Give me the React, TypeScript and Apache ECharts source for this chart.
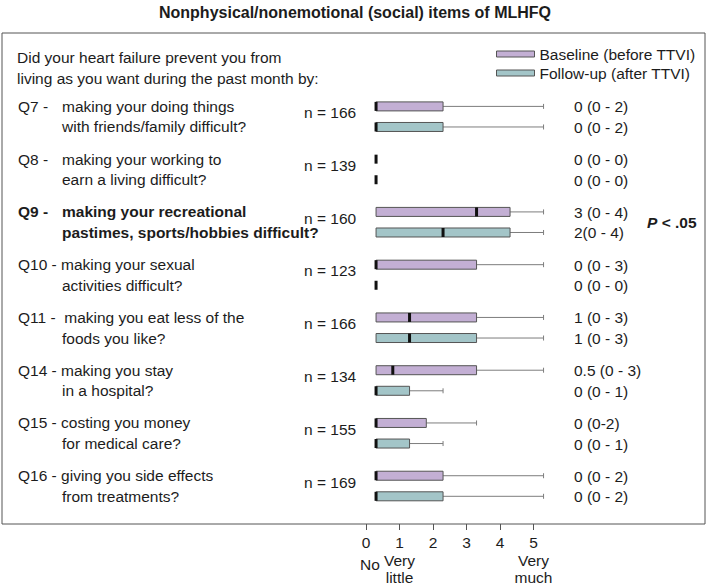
import React, { useEffect, useRef } from 'react';
import * as echarts from 'echarts';

const categories = ['Q7', 'Q8', 'Q9', 'Q10', 'Q11', 'Q14', 'Q15', 'Q16'];
const questionCodes = ['Q7 -', 'Q8 -', 'Q9 -', 'Q10 -', 'Q11 -', 'Q14 -', 'Q15 -', 'Q16 -'];
const questionLine1 = [
  'making your doing things',
  'making your working to',
  'making your recreational',
  'making your sexual',
  ' making you eat less of the',
  'making you stay',
  'costing you money',
  'giving you side effects',
];
const questionLine2 = [
  'with friends/family difficult?',
  'earn a living difficult?',
  'pastimes, sports/hobbies difficult?',
  'activities difficult?',
  'foods you like?',
  'in a hospital?',
  'for medical care?',
  'from treatments?',
];
const boldRows = ['Q9'];
const sampleSizes = [166, 139, 160, 123, 166, 134, 155, 169];

const baselineQ1 = [0, 0, 0, 0, 0, 0, 0, 0];
const baselineMedian = [0, 0, 3, 0, 1, 0.5, 0, 0];
const baselineQ3 = [2, 0, 4, 3, 3, 3, 1.5, 2];
const baselineMax = [5, 0, 5, 5, 5, 5, 3, 5];

const followupQ1 = [0, 0, 0, 0, 0, 0, 0, 0];
const followupMedian = [0, 0, 2, 0, 1, 0, 0, 0];
const followupQ3 = [2, 0, 4, 0, 3, 1, 1, 2];
const followupMax = [5, 0, 5, 0, 5, 2, 2, 5];

const baselineLabels = ['0 (0 - 2)', '0 (0 - 0)', '3 (0 - 4)', '0 (0 - 3)', '1 (0 - 3)', '0.5 (0 - 3)', '0 (0-2)', '0 (0 - 2)'];
const followupLabels = ['0 (0 - 2)', '0 (0 - 0)', '2(0 - 4)', '0 (0 - 0)', '1 (0 - 3)', '0 (0 - 1)', '0 (0 - 1)', '0 (0 - 2)'];
const pValueRows = ['Q9'];
const pValueText = '< .05';

const xTicks = [0, 1, 2, 3, 4, 5];
const anchorValues = [0, 1, 5];
const anchorWords = ['No', 'Very\nlittle', 'Very\nmuch'];

const seriesNames = ['Baseline (before TTVI)', 'Follow-up (after TTVI)'];
const seriesColors = ['#c3afd4', '#a3c5c8'];

const FONT = '"Liberation Sans", Arial, Helvetica, sans-serif';
const TEXT = '#1c1c1c';
const FS = 15.5;
const GRID_TOP = 90.3;
const GRID_H = 422.1;
const GRID_LEFT = 366;
const GRID_W = 167.5;
const AXIS_OFFSET = 524 - (GRID_TOP + GRID_H);
const PAIR_OFFSET = 0.195;

function boxRenderer(sign: number) {
  return (params: any, api: any) => {
    const row = api.value(0);
    const q1 = api.value(1);
    const med = api.value(2);
    const q3 = api.value(3);
    const mx = api.value(4);
    const band = api.size([0, 1])[1];
    const cy = api.coord([0, row])[1] + sign * band * PAIR_OFFSET;
    const xq1 = api.coord([q1, row])[0];
    const xmed = api.coord([med, row])[0];
    const xq3 = api.coord([q3, row])[0];
    const xmx = api.coord([mx, row])[0];
    const color = api.visual('color');
    const children: any[] = [];
    if (mx > q3) {
      children.push({ type: 'line', shape: { x1: xq3, y1: cy, x2: xmx, y2: cy }, style: { stroke: '#7d7d7d', lineWidth: 1 } });
      children.push({ type: 'line', shape: { x1: xmx, y1: cy - 2.5, x2: xmx, y2: cy + 2.5 }, style: { stroke: '#7d7d7d', lineWidth: 1 } });
    }
    if (q3 > q1) {
      children.push({ type: 'rect', shape: { x: xq1, y: cy - 4.5, width: xq3 - xq1, height: 9 }, style: { fill: color, stroke: '#555', lineWidth: 1 } });
    }
    children.push({ type: 'rect', shape: { x: xmed - 1.5, y: cy - 4.5, width: 3, height: 9 }, style: { fill: '#111' } });
    return { type: 'group', children };
  };
}

function txt(x: number, y: number, text: string, opts: any = {}) {
  return {
    type: 'text',
    x,
    y,
    style: {
      text,
      fill: TEXT,
      fontSize: opts.fontSize || FS,
      fontFamily: FONT,
      fontWeight: opts.bold ? 'bold' : 'normal',
      align: opts.align || 'left',
      verticalAlign: opts.va || 'middle',
      lineHeight: opts.lineHeight,
      rich: opts.rich,
    },
  };
}

function labelRenderer(params: any, api: any) {
  const i = api.value(1);
  const band = api.size([0, 1])[1];
  const cy = api.coord([0, i])[1];
  const y1 = cy - band * PAIR_OFFSET;
  const y2 = cy + band * PAIR_OFFSET;
  const bold = boldRows.indexOf(categories[i]) >= 0;
  const code = questionCodes[i];
  const children: any[] = [];
  if (code.length <= 4) {
    children.push(txt(18, y1, code, { bold }));
    children.push(txt(62, y1, questionLine1[i], { bold }));
  } else {
    children.push(txt(18, y1, code + ' ' + questionLine1[i], { bold }));
  }
  children.push(txt(62, y2, questionLine2[i], { bold }));
  children.push(txt(304, cy - 4, 'n = ' + sampleSizes[i]));
  children.push(txt(574, y1 + 0.5, baselineLabels[i]));
  children.push(txt(574, y2 + 0.5, followupLabels[i]));
  if (pValueRows.indexOf(categories[i]) >= 0) {
    children.push(txt(647, cy, '{p|P} ' + pValueText, {
      bold: true,
      rich: { p: { fontStyle: 'italic', fontWeight: 'bold', fontSize: FS, fontFamily: FONT, fill: TEXT } },
    }));
  }
  return { type: 'group', children };
}

function anchorRenderer(params: any, api: any) {
  const v = api.value(0);
  const i = params.dataIndex;
  const x = api.coord([v, 0])[0];
  const base = params.coordSys.y + params.coordSys.height + AXIS_OFFSET;
  const word = anchorWords[i];
  if (word.indexOf('\n') < 0) {
    return txt(x + 4, base + 40, word, { align: 'center' });
  }
  return txt(x, base + 27.5, word, { align: 'center', va: 'top', lineHeight: 17 });
}

export default function App() {
  const ref = useRef<HTMLDivElement>(null);
  useEffect(() => {
    if (!ref.current) return;
    const chart = echarts.init(ref.current, null, { renderer: 'svg' });
    const baseData = categories.map((_, i) => [i, baselineQ1[i], baselineMedian[i], baselineQ3[i], baselineMax[i]]);
    const fuData = categories.map((_, i) => [i, followupQ1[i], followupMedian[i], followupQ3[i], followupMax[i]]);
    chart.setOption({
      animation: false,
      backgroundColor: '#fff',
      textStyle: { fontFamily: FONT },
      grid: { left: GRID_LEFT, top: GRID_TOP, width: GRID_W, height: GRID_H },
      legend: {
        orient: 'vertical',
        left: 496,
        top: 46,
        padding: 0,
        itemWidth: 38,
        itemHeight: 6,
        itemGap: 3,
        icon: 'rect',
        selectedMode: false,
        itemStyle: { borderColor: '#555', borderWidth: 1 },
        textStyle: { fontSize: FS, color: TEXT, fontFamily: FONT, lineHeight: 16 },
        data: seriesNames,
      },
      xAxis: [
        {
          type: 'value',
          min: xTicks[0],
          max: xTicks[xTicks.length - 1],
          interval: 1,
          position: 'bottom',
          offset: AXIS_OFFSET,
          axisLine: { show: false },
          axisTick: { show: true, length: 6, lineStyle: { color: '#555' } },
          splitLine: { show: false },
          axisLabel: { fontSize: FS, color: TEXT, margin: 10, fontFamily: FONT },
        },
        { type: 'value', min: -0.3, max: 4.7, show: false },
      ],
      yAxis: { type: 'category', data: categories, inverse: true, show: false },
      graphic: [
        {
          type: 'rect',
          shape: { x: 2, y: 33, width: 703, height: 491 },
          style: { fill: 'none', stroke: '#555', lineWidth: 1 },
          silent: true,
        },
        txt(355, 12, 'Nonphysical/nonemotional (social) items of MLHFQ', { bold: true, align: 'center', fontSize: 16 }),
        txt(17, 57, 'Did your heart failure prevent you from'),
        txt(17, 78, 'living as you want during the past month by:'),
      ],
      series: [
        {
          name: seriesNames[0],
          type: 'custom',
          xAxisIndex: 1,
          itemStyle: { color: seriesColors[0] },
          encode: { y: 0, x: [1, 2, 3, 4] },
          renderItem: boxRenderer(-1),
          data: baseData,
          z: 3,
        },
        {
          name: seriesNames[1],
          type: 'custom',
          xAxisIndex: 1,
          itemStyle: { color: seriesColors[1] },
          encode: { y: 0, x: [1, 2, 3, 4] },
          renderItem: boxRenderer(1),
          data: fuData,
          z: 3,
        },
        {
          name: 'labels',
          type: 'custom',
          xAxisIndex: 1,
          encode: { x: 0, y: 1 },
          renderItem: labelRenderer,
          data: categories.map((_, i) => [0, i]),
          silent: true,
        },
        {
          name: 'anchors',
          type: 'custom',
          xAxisIndex: 0,
          encode: { x: 0, y: 1 },
          renderItem: anchorRenderer,
          data: anchorValues.map((v) => [v, 0]),
          silent: true,
        },
      ],
    });
    return () => chart.dispose();
  }, []);
  return <div ref={ref} style={{ position: 'fixed', left: 0, top: 0, width: 709, height: 586, background: '#fff' }} />;
}
